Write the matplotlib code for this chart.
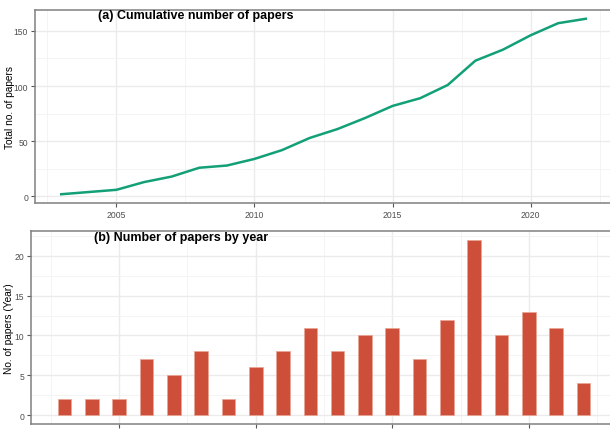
import numpy as np
import matplotlib
matplotlib.use("Agg")
import matplotlib.pyplot as plt
from matplotlib.ticker import MultipleLocator

plt.rcParams['font.family'] = ['Liberation Sans', 'DejaVu Sans']

# data
years = [2003, 2004, 2005, 2006, 2007, 2008, 2009, 2010, 2011, 2012,
         2013, 2014, 2015, 2016, 2017, 2018, 2019, 2020, 2021, 2022]
papers_per_year = [2, 2, 2, 7, 5, 8, 2, 6, 8, 11,
                   8, 10, 11, 7, 12, 22, 10, 13, 11, 4]
cumulative = list(np.cumsum(papers_per_year))

line_col = '#13a077'
bar_col = '#cd4f39'
grid_col = '#ebebeb'
border_col = '#808080'
tick_col = '#4d4d4d'

fig = plt.figure(figsize=(6.10, 4.31), dpi=100)
W, H = 610, 431


def px_axes(left, top, right, bottom):
    return fig.add_axes([left / W, 1 - bottom / H, (right - left) / W, (bottom - top) / H])


def style(ax, xmaj, ymaj):
    ax.xaxis.set_major_locator(MultipleLocator(xmaj))
    ax.xaxis.set_minor_locator(MultipleLocator(xmaj / 2))
    ax.yaxis.set_major_locator(MultipleLocator(ymaj))
    ax.yaxis.set_minor_locator(MultipleLocator(ymaj / 2))
    ax.grid(True, which='major', color=grid_col, lw=1.0, zorder=0)
    ax.grid(True, which='minor', color='#f3f3f3', lw=0.6, zorder=0)
    ax.set_axisbelow(True)
    for s in ax.spines.values():
        s.set_color(border_col)
        s.set_linewidth(1.1)
    ax.tick_params(which='major', length=3, width=0.8, color='#555555',
                   labelsize=6.2, labelcolor=tick_col, pad=2)
    ax.tick_params(which='minor', length=0)


# (a) cumulative
ax1 = px_axes(35, 11, 612, 204)
ax1.plot(years, cumulative, color=line_col, lw=1.8, zorder=3)
ax1.set_xlim(2002.05, 2022.95)
ax1.set_ylim(-5.95, 168.95)
style(ax1, 5, 50)
ax1.set_ylabel('Total no. of papers', fontsize=7.3)
ax1.yaxis.set_label_coords(-0.035, 0.5)
ax1.text(2004.35, 164.5, '(a) Cumulative number of papers', fontsize=9,
         fontweight='bold', ha='left', va='center')

# (b) per year
ax2 = px_axes(31, 232, 617, 425)
ax2.bar(years, papers_per_year, width=0.5, color=bar_col,
        edgecolor='#eaa595', linewidth=0.5, zorder=3)
ax2.set_xlim(2001.775, 2023.225)
ax2.set_ylim(-1.1, 23.1)
style(ax2, 5, 5)
ax2.set_ylabel('No. of papers (Year)', fontsize=7.3)
ax2.yaxis.set_label_coords(-0.029, 0.5)
ax2.text(2004.09, 22.4, '(b) Number of papers by year', fontsize=9,
         fontweight='bold', ha='left', va='center')

fig.savefig('out.png', dpi=100)
